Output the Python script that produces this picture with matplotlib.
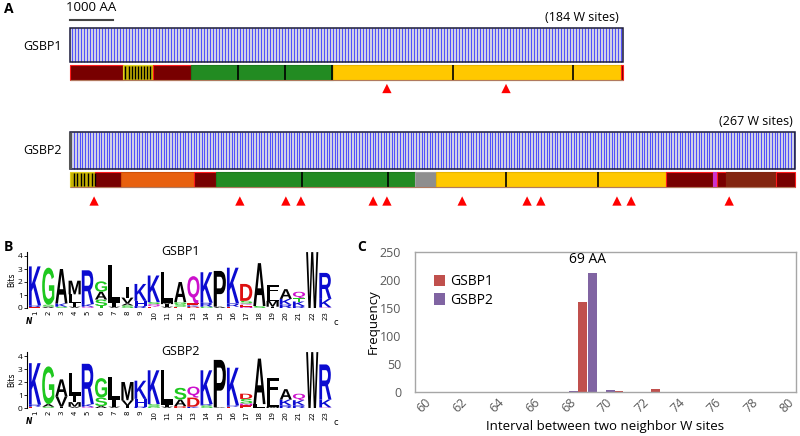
import numpy as np
import matplotlib
matplotlib.use("Agg")
import matplotlib.pyplot as plt
from matplotlib.patches import Rectangle, PathPatch
from matplotlib.textpath import TextPath
from matplotlib.path import Path
from matplotlib.font_manager import FontProperties
import matplotlib.transforms as mtrans

plt.rcParams['font.family'] = ['Open Sans', 'DejaVu Sans']

# ---------------- data ----------------
# panel A: protein architecture (positions in AA)
gsbp1_len = 12860
gsbp2_len = 16860
gsbp1_sites = 184
gsbp2_sites = 267

gsbp1_domains = [(0, 1230, 'darkred'), (1230, 1930, 'motif'), (1930, 2810, 'darkred'),
                 (2810, 6120, 'green'), (6120, 12810, 'yellow'), (12810, 12860, 'darkred')]
gsbp1_dividers = [3910, 5000, 6090, 8910, 11700]
gsbp1_motif_lines = [1290, 1370, 1440, 1510, 1580, 1650, 1720, 1790, 1860]
gsbp1_marks = [7370, 10140]

gsbp2_domains = [(0, 580, 'motif'), (580, 1190, 'darkred'), (1190, 2880, 'orange'),
                 (2880, 3400, 'darkred'), (3400, 8020, 'green'), (8020, 8510, 'gray'),
                 (8510, 13860, 'yellow'), (13860, 14950, 'darkred'), (14950, 15050, 'magenta'),
                 (15050, 15260, 'darkred'), (15260, 16420, 'brown'), (16420, 16860, 'darkred')]
gsbp2_dividers = [5400, 7400, 10140, 12280]
gsbp2_motif_lines = [90, 170, 250, 330, 410, 500, 570]
gsbp2_marks = [560, 3950, 5020, 5370, 7050, 7370, 9120, 10630, 10950, 12720, 13050, 15330]

# panel B: sequence logos, stacks bottom -> top (letter, bits)
logo1 = [
    [('E', 0.08), ('R', 0.12), ('K', 3.0)],
    [('A', 0.1), ('S', 0.15), ('G', 2.85)],
    [('S', 0.1), ('K', 0.25), ('A', 2.65)],
    [('V', 0.1), ('I', 0.25), ('L', 0.7), ('M', 1.05)],
    [('Q', 0.1), ('K', 0.2), ('R', 2.6)],
    [('T', 0.15), ('S', 0.5), ('A', 0.6), ('G', 0.8)],
    [('V', 0.1), ('I', 0.25), ('L', 2.95)],
    [('S', 0.2), ('A', 0.15), ('V', 0.45), ('I', 0.8)],
    [('R', 0.15), ('H', 0.4), ('K', 1.3)],
    [('E', 0.1), ('Q', 0.2), ('S', 0.15), ('K', 2.05)],
    [('V', 0.1), ('I', 0.2), ('M', 0.1), ('L', 2.35)],
    [('E', 0.1), ('S', 0.2), ('G', 0.15), ('A', 1.55)],
    [('D', 0.1), ('K', 0.1), ('E', 0.15), ('Q', 2.1)],
    [('G', 0.1), ('R', 0.3), ('K', 2.35)],
    [('A', 0.1), ('P', 2.75)],
    [('E', 0.1), ('R', 0.25), ('K', 2.75)],
    [('N', 0.1), ('E', 0.15), ('Q', 0.1), ('S', 0.2), ('D', 1.3)],
    [('S', 0.15), ('A', 3.3)],
    [('I', 0.1), ('M', 0.45), ('L', 0.5), ('F', 0.7)],
    [('R', 0.25), ('K', 0.45), ('A', 0.75)],
    [('R', 0.15), ('K', 0.35), ('T', 0.25), ('Q', 0.5)],
    [('W', 4.3)],
    [('Q', 0.05), ('K', 0.65), ('R', 2.0)],
]
logo2 = [
    [('E', 0.1), ('R', 0.15), ('K', 3.2)],
    [('S', 0.1), ('A', 0.2), ('G', 2.9)],
    [('I', 0.1), ('V', 0.8), ('A', 1.3)],
    [('V', 0.1), ('M', 0.35), ('I', 0.5), ('L', 1.75)],
    [('Q', 0.1), ('K', 0.2), ('R', 3.1)],
    [('A', 0.15), ('S', 0.65), ('G', 1.5)],
    [('V', 0.1), ('I', 0.5), ('L', 1.8)],
    [('I', 0.2), ('V', 0.4), ('M', 1.4)],
    [('R', 0.1), ('H', 0.6), ('K', 1.4)],
    [('G', 0.1), ('S', 0.2), ('K', 2.6)],
    [('V', 0.1), ('I', 0.15), ('L', 2.65)],
    [('D', 0.15), ('A', 0.5), ('S', 0.9)],
    [('K', 0.1), ('D', 0.7), ('Q', 0.85)],
    [('S', 0.2), ('R', 0.1), ('K', 2.6)],
    [('A', 0.05), ('P', 3.65)],
    [('E', 0.1), ('R', 0.1), ('K', 2.9)],
    [('E', 0.2), ('N', 0.15), ('S', 0.35), ('D', 0.4)],
    [('L', 0.3), ('A', 3.5)],
    [('M', 0.1), ('L', 0.8), ('F', 1.4)],
    [('R', 0.2), ('K', 0.45), ('A', 0.8)],
    [('R', 0.2), ('K', 0.4), ('Q', 0.5)],
    [('W', 4.3)],
    [('Q', 0.05), ('K', 0.6), ('R', 2.7)],
]

# panel C: interval histogram
intervals = list(range(60, 81))
freq_gsbp1 = [0, 0, 0, 0, 0, 0, 0, 0, 0, 160, 0, 2, 0, 6, 0, 0, 0, 0, 0, 0, 0]
freq_gsbp2 = [0, 0, 0, 0, 0, 0, 0, 0, 1, 212, 4, 0, 0, 0, 0, 0, 0, 0, 0, 0, 0]

# ---------------- styles ----------------
W, H = 800, 436
fig = plt.figure(figsize=(W / 100, H / 100), dpi=100)


def fx(x):
    return x / W


def fy(y):
    return 1 - y / H


dom_style = {
    'darkred': ('#780000', '#ff1a1a'),
    'motif': ('#c8b400', '#e0d020'),
    'green': ('#228b22', '#1d7a1d'),
    'yellow': ('#ffc800', '#e8b400'),
    'orange': ('#e8600e', '#d05008'),
    'gray': ('#8e8e8e', '#a0a0a0'),
    'magenta': ('#cc33cc', '#cc33cc'),
    'brown': ('#832510', '#832510'),
}

# ---------------- panel A ----------------
px_per_aa = 0.043
x0 = 70
axA = fig.add_axes([0, fy(215), 1, 215 / H])
axA.set_xlim(-x0 / px_per_aa, (W - x0) / px_per_aa)
axA.set_ylim(215, 0)
axA.axis('off')


def protein(ax, length, n_sites, domains, dividers, motif_lines, marks, ybox, ybar, ymark):
    b0, b1 = ybox
    ax.add_patch(Rectangle((0, b0), length, b1 - b0, fc='#d0d0e6', ec='none', zorder=1))
    step = length / n_sites
    sites = step / 2 + np.arange(n_sites) * step
    ax.vlines(sites, b0, b1, color='#4444ff', lw=0.65, zorder=2)
    ax.add_patch(Rectangle((0, b0), length, b1 - b0, fc='none', ec='#1a1a3a', lw=1.1, zorder=3))
    r0, r1 = ybar
    for s, e, kind in domains:
        fc, ec = dom_style[kind]
        ax.add_patch(Rectangle((s, r0), e - s, r1 - r0, fc=fc, ec=ec, lw=0.8, zorder=2))
    ax.vlines(dividers, r0, r1, color='black', lw=1.2, zorder=3)
    ax.vlines(motif_lines, r0 + 1, r1 - 1, color='black', lw=1.0, zorder=3)
    ax.hlines(r1 + 0.5, 0, length, color='#b07a60', lw=0.8, zorder=3)
    ax.scatter(marks, [ymark] * len(marks), marker='^', s=45, color='#ff0000',
               edgecolors='none', zorder=3)


protein(axA, gsbp1_len, gsbp1_sites, gsbp1_domains, gsbp1_dividers, gsbp1_motif_lines,
        gsbp1_marks, (28, 62), (65, 80), 88.5)
protein(axA, gsbp2_len, gsbp2_sites, gsbp2_domains, gsbp2_dividers, gsbp2_motif_lines,
        gsbp2_marks, (132, 169), (172, 187), 201)
# darker left edge of the GSBP2 box
axA.vlines(0, 132, 169, color='#555555', lw=2.2, zorder=4)

axA.plot([0, 1000], [20, 20], color='#444444', lw=1.5)
axA.text(500, 14, '1000 AA', ha='center', va='bottom', fontsize=9.5)
axA.text(gsbp1_len - 100, 24, '(184 W sites)', ha='right', va='bottom', fontsize=9)
axA.text(gsbp2_len - 60, 128, '(267 W sites)', ha='right', va='bottom', fontsize=9)
axA.text(-200, 46, 'GSBP1', ha='right', va='center', fontsize=9)
axA.text(-200, 150, 'GSBP2', ha='right', va='center', fontsize=9)

fig.text(fx(4), fy(9), 'A', fontsize=10, fontweight='bold', va='center')
fig.text(fx(4), fy(247), 'B', fontsize=10, fontweight='bold', va='center')
fig.text(fx(357), fy(247), 'C', fontsize=10, fontweight='bold', va='center')

# ---------------- panel B ----------------
letter_color = {}
for c in 'KRH':
    letter_color[c] = '#0b0bd0'
for c in 'GSTYC':
    letter_color[c] = '#1ec81e'
for c in 'ALIVMFPW':
    letter_color[c] = '#000000'
for c in 'QN':
    letter_color[c] = '#cc10cc'
for c in 'DE':
    letter_color[c] = '#dd1010'

fp = FontProperties(family='Liberation Sans', weight='bold')
glyphs = {}


def glyph(ch):
    if ch not in glyphs:
        tp = TextPath((0, 0), ch, size=1, prop=fp)
        verts = np.asarray(tp.vertices)
        codes = np.asarray(tp.codes)
        keep = (codes != Path.CLOSEPOLY) & (codes != Path.STOP)
        v = verts[keep]
        glyphs[ch] = (Path(verts, codes), v[:, 0].min(), v[:, 1].min(),
                      v[:, 0].max(), v[:, 1].max())
    return glyphs[ch]


def draw_letter(ax, ch, xc, y, w, h):
    p, gx0, gy0, gx1, gy1 = glyph(ch)
    if ch == 'I':
        w = w * 0.3
    t = (mtrans.Affine2D().translate(-gx0, -gy0)
         .scale(w / (gx1 - gx0), h / (gy1 - gy0)).translate(xc - w / 2, y))
    ax.add_patch(PathPatch(t.transform_path(p), fc=letter_color[ch], ec='none', lw=0))


def logo(stacks, title, ybase):
    left, right = 27, 332
    top = ybase - 4.3 * 13
    ax = fig.add_axes([fx(left), fy(ybase), (right - left) / W, (ybase - top) / H])
    ax.set_xlim(0.39, 23.5)
    ax.set_ylim(0, 4.3)
    for i, stack in enumerate(stacks):
        y = 0
        for ch, h in stack:
            draw_letter(ax, ch, i + 1, y, 0.92, h)
            y += h
    for s in ['top', 'right', 'bottom']:
        ax.spines[s].set_visible(False)
    ax.spines['left'].set_linewidth(0.8)
    ax.set_yticks([0, 1, 2, 3, 4])
    ax.tick_params(axis='y', labelsize=6, length=2, width=0.6, pad=1)
    ax.set_xticks(range(1, len(stacks) + 1))
    ax.set_xticklabels([str(i) for i in range(1, len(stacks) + 1)], rotation=90,
                       fontsize=5, fontfamily='DejaVu Sans')
    ax.tick_params(axis='x', length=0, pad=2)
    ax.set_ylabel('Bits', fontsize=5.5, labelpad=1, fontfamily='DejaVu Sans')
    ax.text(12, 4.35, title, ha='center', va='center', fontsize=9)
    fig.text(fx(29), fy(ybase + 13), 'N', fontsize=5.5, fontstyle='italic',
             fontweight='bold', ha='center', va='center', fontfamily='DejaVu Sans')
    fig.text(fx(336), fy(ybase + 14), 'c', fontsize=6, ha='center', va='center',
             fontfamily='DejaVu Sans')


logo(logo1, 'GSBP1', 308)
logo(logo2, 'GSBP2', 408)

# ---------------- panel C ----------------
axC = fig.add_axes([fx(415), fy(392), (796 - 415) / W, (392 - 252) / H])
xs = np.array(intervals)
axC.bar(xs - 0.26, freq_gsbp1, width=0.5, color='#c0504d', label='GSBP1')
axC.bar(xs + 0.26, freq_gsbp2, width=0.5, color='#8064a2', label='GSBP2')
axC.set_xlim(59.5, 80.5)
axC.set_ylim(0, 250)
axC.set_yticks(range(0, 251, 50))
axC.set_xticks(intervals[::2])
axC.set_xticklabels([str(v) for v in intervals[::2]], rotation=45)
axC.tick_params(length=0, labelsize=9, colors='#595959')
axC.tick_params(axis='y', pad=10)
axC.tick_params(axis='x', pad=3)
for s in axC.spines.values():
    s.set_color('#a6a6a6')
    s.set_linewidth(1.0)
axC.set_ylabel('Frequency', fontsize=9.5, labelpad=0)
axC.set_xlabel('Interval between two neighbor W sites', fontsize=9.5, labelpad=3)
axC.text(69, 224, '69 AA', ha='center', va='bottom', fontsize=10)
axC.legend(loc='upper left', bbox_to_anchor=(0.035, 0.88), frameon=False, fontsize=10,
           handlelength=0.8, handleheight=0.9, handletextpad=0.4, labelspacing=0.25,
           borderaxespad=0)

fig.savefig('out.png', dpi=100)
